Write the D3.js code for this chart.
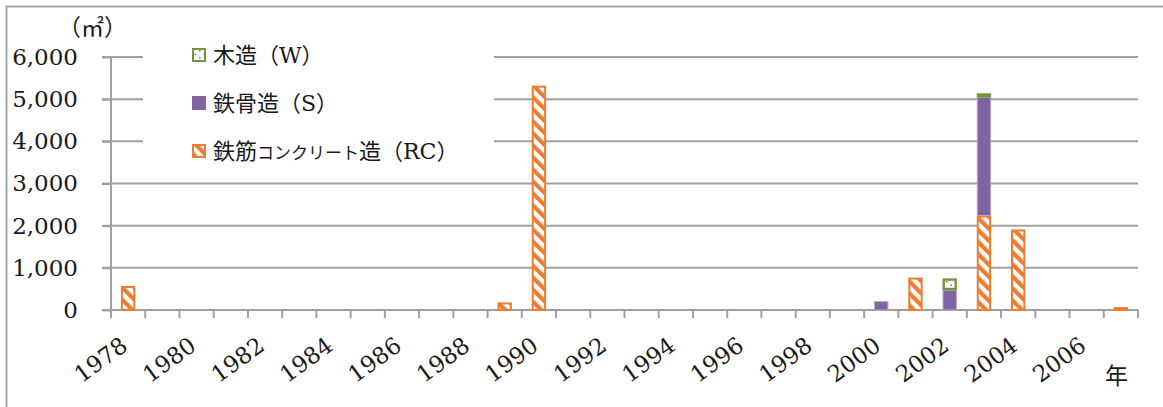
<!DOCTYPE html>
<html><head><meta charset="utf-8">
<script src="https://cdn.jsdelivr.net/npm/d3@7"></script>
<style>
body{margin:0;background:#fff;}
svg{display:block;}
text{font-family:"DejaVu Serif","Noto Sans CJK JP",serif;fill:#1a1a1a;}
</style></head>
<body>
<svg id="c" width="1163" height="407"></svg>
<script>
const years = ["1978","1979","1980","1981","1982","1983","1984","1985","1986","1987","1988","1989","1990","1991","1992","1993","1994","1995","1996","1997","1998","1999","2000","2001","2002","2003","2004","2005","2006","2007"];
const rcValues = [570,0,0,0,0,0,0,0,0,0,0,180,5320,0,0,0,0,0,0,0,15,0,0,770,0,2240,1910,0,0,70];
const sValues  = [0,0,0,0,0,0,0,0,0,0,0,0,0,0,0,0,0,0,0,0,0,0,200,0,470,2800,0,0,0,0];
const wValues  = [0,0,0,0,0,0,0,0,0,0,0,0,0,0,0,0,0,0,0,0,0,0,0,0,280,100,0,0,0,0];
const xTickLabels = ["1978","1980","1982","1984","1986","1988","1990","1992","1994","1996","1998","2000","2002","2004","2006"];
const yTicks = [0,1000,2000,3000,4000,5000,6000];
const seriesNames = ["木造（W）","鉄骨造（S）","鉄筋コンクリート造（RC）"];

const svg = d3.select("#c");
const defs = svg.append("defs");
// RC stripes
const pRC = defs.append("pattern").attr("id","rc").attr("patternUnits","userSpaceOnUse")
  .attr("width",8.5).attr("height",8.5).attr("patternTransform","rotate(-45)");
pRC.append("rect").attr("width",8.5).attr("height",8.5).attr("fill","#fff");
pRC.append("rect").attr("width",4.2).attr("height",8.5).attr("fill","#ED7D31");
// W dots
const pW = defs.append("pattern").attr("id","w").attr("patternUnits","userSpaceOnUse")
  .attr("width",9).attr("height",7);
pW.append("rect").attr("width",9).attr("height",7).attr("fill","#fff");
pW.append("rect").attr("x",1).attr("y",1).attr("width",1.6).attr("height",1.6).attr("fill","#77933C");
pW.append("rect").attr("x",5.5).attr("y",4.5).attr("width",1.6).attr("height",1.6).attr("fill","#77933C");

// frame
svg.append("rect").attr("x",6.5).attr("y",6.5).attr("width",1170).attr("height",420)
  .attr("fill","none").attr("stroke","#a6a6a6").attr("stroke-width",2);

const x = d3.scaleBand().domain(years).range([111,1138]).paddingInner(0.58).paddingOuter(0.29);
const y = d3.scaleLinear().domain([0,6000]).range([310,57]);

// gridlines
svg.append("g").selectAll("line").data(yTicks.filter(d=>d>0)).join("line")
  .attr("x1",102).attr("x2",1138).attr("y1",d=>y(d)).attr("y2",d=>y(d))
  .attr("stroke","#a0a0a0").attr("stroke-width",2);

// y axis
const yAxis = d3.axisLeft(y).tickValues(yTicks).tickSize(9).tickPadding(24)
  .tickFormat(d3.format(","));
const gy = svg.append("g").attr("transform","translate(111,0)").call(yAxis);
gy.select(".domain").attr("stroke","#a0a0a0").attr("stroke-width",2).attr("d","M0,57V318");
gy.selectAll(".tick line").attr("stroke","#a0a0a0").attr("stroke-width",2);
gy.selectAll(".tick text").attr("font-size",23).attr("font-family","DejaVu Serif").attr("fill","#1a1a1a");

// x axis baseline & ticks
const step = x.step();
const bounds = d3.range(years.length+1).map(i=>x.range()[0]+i*step);
svg.append("line").attr("x1",102).attr("x2",1138).attr("y1",310).attr("y2",310)
  .attr("stroke","#a0a0a0").attr("stroke-width",2);
svg.append("g").selectAll("line").data(bounds).join("line")
  .attr("x1",d=>d).attr("x2",d=>d).attr("y1",310).attr("y2",318)
  .attr("stroke","#a0a0a0").attr("stroke-width",2);

// bars
const stacks = years.map((yr,i)=>({yr, rc:rcValues[i], s:sValues[i], w:wValues[i]}));
const gBars = svg.append("g");
const bw = x.bandwidth();
stacks.forEach(d=>{
  let base = 0;
  if(d.rc>0){
    gBars.append("rect").attr("x",x(d.yr)+1).attr("width",bw-2)
      .attr("y",y(base+d.rc)+1).attr("height",Math.max(0,y(base)-y(base+d.rc)-1))
      .attr("fill","url(#rc)").attr("stroke","#ED7D31").attr("stroke-width",2);
    base += d.rc;
  }
  if(d.s>0){
    gBars.append("rect").attr("x",x(d.yr)+0.5).attr("width",bw-1)
      .attr("y",y(base+d.s)).attr("height",y(base)-y(base+d.s))
      .attr("fill","#8064A2").attr("stroke","#B7A6CC").attr("stroke-width",1);
    base += d.s;
  }
  if(d.w>0){
    const h = y(base)-y(base+d.w);
    gBars.append("rect").attr("x",x(d.yr)+1.2).attr("width",bw-2.4)
      .attr("y",y(base+d.w)+1.2).attr("height",Math.max(0.5,h-2.4))
      .attr("fill",h>6?"url(#w)":"#77933C").attr("stroke","#77933C").attr("stroke-width",2.4);
    base += d.w;
  }
});

// x labels
svg.append("g").selectAll("text").data(xTickLabels).join("text")
  .attr("transform",d=>`translate(${x(d)+bw/2+1},${349}) rotate(-36)`)
  .attr("text-anchor","end")
  .attr("font-size",23).text(d=>d);

// unit labels
svg.append("text").attr("x",58).attr("y",36).attr("font-size",23).text("（㎡）");
svg.append("text").attr("x",1105).attr("y",384).attr("font-size",23).attr("font-family","Noto Sans CJK JP").text("年");

// legend
const lg = svg.append("g");
lg.append("rect").attr("x",143).attr("y",40).attr("width",351).attr("height",125).attr("fill","#fff");
const ly = [55,103,151];
const swFill = ["url(#w)","#8064A2","url(#rc)"];
const swStroke = ["#77933C","#8064A2","#ED7D31"];
seriesNames.forEach((name,i)=>{
  lg.append("rect").attr("x",193).attr("y",ly[i]-6).attr("width",12).attr("height",12)
    .attr("fill",swFill[i]).attr("stroke",swStroke[i]).attr("stroke-width",2);
});
lg.append("text").attr("x",213).attr("y",ly[0]).attr("dy","0.36em").attr("font-size",22).text(seriesNames[0]);
lg.append("text").attr("x",213).attr("y",ly[1]).attr("dy","0.36em").attr("font-size",22).text(seriesNames[1]);
// RC label with smaller katakana
const rcName = seriesNames[2];
const t3 = lg.append("text").attr("x",213).attr("y",ly[2]).attr("dy","0.36em").attr("font-size",22);
t3.append("tspan").text(rcName.slice(0,2));
t3.append("tspan").attr("font-size",17).text(rcName.slice(2,8));
t3.append("tspan").text(rcName.slice(8));
</script>
</body></html>
